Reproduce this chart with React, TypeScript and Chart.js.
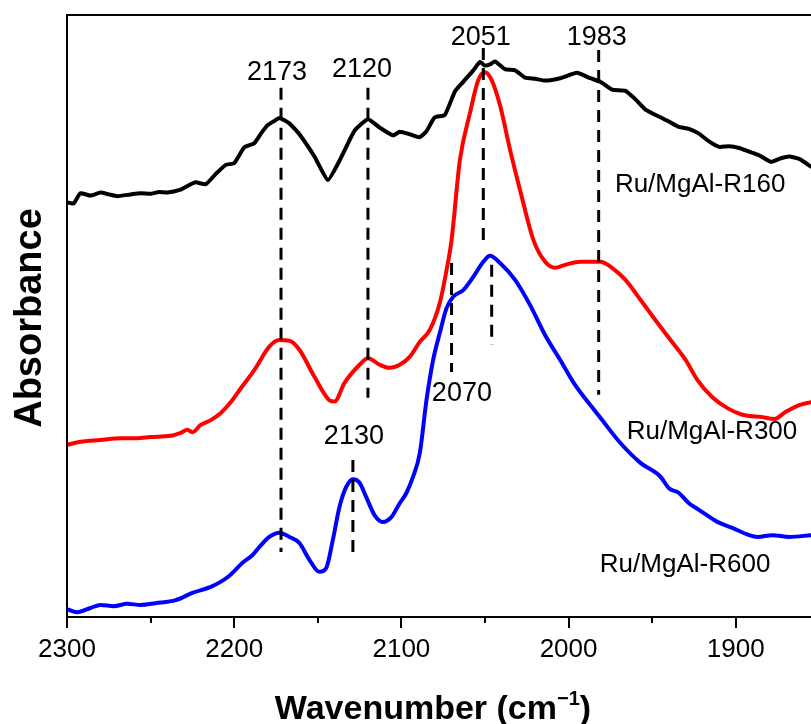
import React, { useEffect, useRef } from 'react';
import { Chart, registerables } from 'chart.js';

Chart.register(...registerables);

const FONT = '"Liberation Sans", Arial, Helvetica, sans-serif';

// ---- X axis ticks (wavenumber, cm-1) ----
const xMin = 1855;
const xMax = 2300;
const xMajorTicks = [2300, 2200, 2100, 2000, 1900];
const xMinorTicks = [2250, 2150, 2050, 1950];

// ---- Ru/MgAl-R160 (black) ----
const wnR160 = [2300, 2296, 2292, 2286, 2280, 2275, 2270, 2262, 2256, 2250, 2245, 2240, 2232, 2228, 2223, 2217, 2211, 2205, 2200, 2194, 2188, 2184, 2180, 2176, 2173, 2167, 2161, 2152, 2144, 2137, 2128, 2120, 2113, 2105, 2101, 2095, 2089, 2085, 2080, 2074, 2068, 2063, 2057, 2053, 2050, 2047, 2044, 2038, 2032, 2026, 2020, 2014, 2005, 1995, 1987, 1981, 1974, 1966, 1960, 1954, 1945, 1940, 1934, 1928, 1922, 1916, 1910, 1904, 1898, 1892, 1886, 1879, 1873, 1868, 1862, 1855];
const absR160 = [68.9, 68.7, 70.4, 70.0, 70.5, 70.2, 69.9, 70.2, 70.4, 70.3, 70.6, 70.5, 71.0, 71.6, 72.2, 71.9, 73.6, 75.1, 75.4, 78.0, 78.7, 80.3, 81.7, 82.4, 82.9, 82.0, 80.2, 76.5, 72.6, 75.8, 80.8, 82.7, 81.3, 80.0, 80.6, 80.2, 79.7, 80.7, 83.0, 83.4, 87.3, 88.9, 90.8, 92.2, 91.6, 91.8, 92.3, 91.0, 90.8, 89.6, 89.4, 89.1, 89.5, 90.4, 89.5, 88.9, 87.6, 87.4, 86.0, 84.3, 83.0, 82.3, 81.4, 81.1, 80.3, 79.0, 78.1, 78.2, 77.9, 77.3, 76.7, 75.6, 76.2, 76.5, 76.1, 74.8];

// ---- Ru/MgAl-R300 (red) ----
const wnR300 = [2300, 2292, 2280, 2268, 2258, 2250, 2238, 2232, 2228, 2225, 2220, 2214, 2208, 2202, 2196, 2188, 2179, 2173, 2167, 2161, 2152, 2143, 2140, 2134, 2125, 2120, 2113, 2107, 2101, 2095, 2089, 2083, 2077, 2073, 2070, 2065, 2059, 2054, 2050, 2046, 2041, 2035, 2029, 2021, 2014, 2008, 2002, 1993, 1981, 1974, 1966, 1957, 1948, 1939, 1930, 1923, 1914, 1905, 1896, 1884, 1877, 1870, 1862, 1855];
const absR300 = [28.6, 29.1, 29.4, 29.7, 29.7, 29.9, 30.1, 30.6, 31.1, 30.7, 31.9, 32.7, 33.9, 35.7, 38.0, 41.0, 44.9, 46.0, 45.9, 44.4, 39.9, 36.0, 35.8, 38.9, 41.9, 43.0, 41.9, 41.4, 41.9, 43.2, 45.7, 47.7, 52.2, 57.6, 62.6, 75.9, 83.7, 89.2, 90.5, 89.2, 85.0, 77.6, 70.9, 62.6, 59.0, 58.0, 58.5, 59.0, 59.0, 58.0, 56.0, 52.7, 49.3, 46.0, 42.7, 39.4, 36.5, 34.7, 33.6, 33.2, 32.9, 34.1, 35.2, 35.7];

// ---- Ru/MgAl-R600 (blue) ----
const wnR600 = [2300, 2294, 2286, 2280, 2272, 2264, 2256, 2247, 2235, 2225, 2214, 2204, 2195, 2189, 2185, 2179, 2173, 2167, 2161, 2155, 2149, 2145, 2141, 2137, 2133, 2129, 2125, 2121, 2116, 2111, 2106, 2101, 2097, 2093, 2089, 2085, 2081, 2077, 2073, 2069, 2063, 2057, 2051, 2047, 2041, 2032, 2023, 2014, 2005, 1996, 1987, 1981, 1969, 1957, 1945, 1940, 1934, 1928, 1922, 1911, 1902, 1892, 1887, 1878, 1868, 1855];
const absR600 = [1.3, 0.8, 1.5, 2.0, 1.8, 2.2, 2.0, 2.3, 2.8, 4.0, 5.0, 6.6, 9.0, 10.3, 11.6, 13.3, 14.0, 13.3, 12.3, 9.5, 7.5, 8.1, 12.8, 18.3, 21.6, 22.9, 22.3, 19.9, 16.9, 15.8, 16.6, 18.9, 20.6, 23.3, 27.2, 36.0, 42.7, 47.2, 51.3, 53.2, 54.3, 56.5, 59.0, 60.0, 58.8, 56.0, 51.8, 46.8, 42.7, 38.5, 35.2, 33.1, 28.9, 25.6, 23.3, 21.4, 20.6, 18.9, 17.8, 15.8, 14.8, 13.6, 13.3, 13.6, 13.3, 13.6];

// ---- Peak marker lines (dashed) ----
const markerWavenumbers = [2172, 2120, 2051, 2046, 2070, 1982, 2129];
const markerTop = [87.9, 87.9, 94.5, 58.5, 58.8, 94.2, 26.1];
const markerBottom = [10.8, 36.4, 62.6, 45.2, 40.7, 36.9, 10.8];

// ---- Peak labels ----
const peakLabels = ['2173', '2120', '2051', '1983', '2070', '2130'];
const peakLabelWn = [2174.4, 2123.6, 2052.5, 1983.1, 2063.8, 2128.4];
const peakLabelAbs = [90.4, 90.9, 96.2, 96.3, 37.2, 29.9];

// ---- Sample labels ----
const sampleNames = ['Ru/MgAl-R160', 'Ru/MgAl-R300', 'Ru/MgAl-R600'];
const sampleLabelWn = [1972.3, 1965.2, 1981.3];
const sampleLabelAbs = [71.8, 30.7, 8.6];
const seriesColors = ['#000000', '#ff0000', '#0000ff'];

const xTitle = 'Wavenumber (cm';
const xTitleSup = '\u22121';
const xTitleEnd = ')';
const yTitle = 'Absorbance';

export default function App() {
  const canvasRef = useRef<HTMLCanvasElement | null>(null);

  useEffect(() => {
    const canvas = canvasRef.current;
    if (!canvas) return;
    const toPts = (xs: number[], ys: number[]) => xs.map((x, i) => ({ x, y: ys[i] }));

    const series = [
      { wn: wnR160, ab: absR160, smooth: false },
      { wn: wnR300, ab: absR300, smooth: true },
      { wn: wnR600, ab: absR600, smooth: true },
    ].map((s, i) => ({
      label: sampleNames[i],
      data: toPts(s.wn, s.ab),
      borderColor: seriesColors[i],
      backgroundColor: seriesColors[i],
      borderWidth: 4,
      pointRadius: 0,
      fill: false,
      tension: s.smooth ? 0.4 : 0.15,
      cubicInterpolationMode: s.smooth ? ('monotone' as const) : ('default' as const),
      order: 2,
      borderJoinStyle: 'round' as const,
      borderCapStyle: 'round' as const,
    }));

    const markers = markerWavenumbers.map((w, i) => ({
      label: 'marker' + i,
      data: [
        { x: w, y: markerTop[i] },
        { x: w, y: markerBottom[i] },
      ],
      borderColor: '#000000',
      borderWidth: 3,
      borderDash: [12, 8],
      pointRadius: 0,
      fill: false,
      order: 1,
    }));

    const decorPlugin = {
      id: 'decor',
      afterDraw(chart: any) {
        const { ctx, chartArea, scales } = chart;
        const { left, top, right, bottom } = chartArea;
        const xs = scales.x;
        const ys = scales.y;
        ctx.save();
        // frame
        ctx.strokeStyle = '#000';
        ctx.lineWidth = 2;
        ctx.beginPath();
        ctx.moveTo(left, bottom + 1);
        ctx.lineTo(left, top);
        ctx.lineTo(right, top);
        ctx.moveTo(left - 1, bottom);
        ctx.lineTo(right, bottom);
        ctx.stroke();
        // ticks
        ctx.beginPath();
        xMajorTicks.forEach((v) => {
          const px = Math.round(xs.getPixelForValue(v));
          ctx.moveTo(px, bottom);
          ctx.lineTo(px, bottom + 11);
        });
        xMinorTicks.forEach((v) => {
          const px = Math.round(xs.getPixelForValue(v));
          ctx.moveTo(px, bottom);
          ctx.lineTo(px, bottom + 6);
        });
        ctx.stroke();

        // peak labels
        ctx.fillStyle = '#000';
        ctx.font = `27px ${FONT}`;
        ctx.textAlign = 'center';
        ctx.textBaseline = 'middle';
        peakLabels.forEach((t, i) => {
          ctx.fillText(t, xs.getPixelForValue(peakLabelWn[i]), ys.getPixelForValue(peakLabelAbs[i]));
        });
        // sample labels
        ctx.font = `26px ${FONT}`;
        ctx.textAlign = 'left';
        sampleNames.forEach((t, i) => {
          ctx.fillText(t, xs.getPixelForValue(sampleLabelWn[i]), ys.getPixelForValue(sampleLabelAbs[i]));
        });

        // x title with superscript
        const mainFont = `bold 34px ${FONT}`;
        const supFont = `bold 20px ${FONT}`;
        ctx.textBaseline = 'alphabetic';
        ctx.textAlign = 'left';
        ctx.font = mainFont;
        const w1 = ctx.measureText(xTitle).width;
        const w3 = ctx.measureText(xTitleEnd).width;
        ctx.font = supFont;
        const w2 = ctx.measureText(xTitleSup).width;
        const total = w1 + w2 + w3;
        const cx = (left + right) / 2 - 6;
        let sx = cx - total / 2;
        const baseY = 719;
        ctx.font = mainFont;
        ctx.fillText(xTitle, sx, baseY);
        sx += w1;
        ctx.font = supFont;
        ctx.fillText(xTitleSup, sx, baseY - 14);
        sx += w2;
        ctx.font = mainFont;
        ctx.fillText(xTitleEnd, sx, baseY);

        // y title
        ctx.save();
        ctx.translate(41, (top + bottom) / 2 + 2);
        ctx.rotate(-Math.PI / 2);
        ctx.font = `bold 38px ${FONT}`;
        ctx.textAlign = 'center';
        ctx.textBaseline = 'alphabetic';
        ctx.fillText(yTitle, 0, 0);
        ctx.restore();

        ctx.restore();
      },
    };

    const chart = new Chart(canvas, {
      type: 'line',
      data: { datasets: [...markers, ...series] as any },
      options: {
        animation: false,
        responsive: true,
        maintainAspectRatio: false,
        devicePixelRatio: 1,
        layout: { padding: { left: 67, top: 15, right: 0, bottom: 0 } },
        plugins: {
          legend: { display: false },
          tooltip: { enabled: false },
          title: { display: false },
        },
        scales: {
          x: {
            type: 'linear',
            reverse: true,
            min: xMin,
            max: xMax,
            grid: { display: false, drawTicks: false },
            border: { display: false },
            afterBuildTicks: (scale: any) => {
              scale.ticks = xMajorTicks.map((v) => ({ value: v }));
            },
            afterFit: (scale: any) => {
              scale.height = 107;
            },
            ticks: {
              autoSkip: false,
              maxRotation: 0,
              padding: 17,
              color: '#000',
              font: { family: FONT, size: 26 },
              callback: (v: any) => String(v),
            },
          },
          y: {
            type: 'linear',
            display: false,
            min: 0,
            max: 100,
          },
        },
      },
      plugins: [decorPlugin],
    });

    return () => chart.destroy();
  }, []);

  return (
    <div style={{ position: 'absolute', left: 0, top: 0, width: 811, height: 724, background: '#fff' }}>
      <canvas ref={canvasRef} />
    </div>
  );
}
